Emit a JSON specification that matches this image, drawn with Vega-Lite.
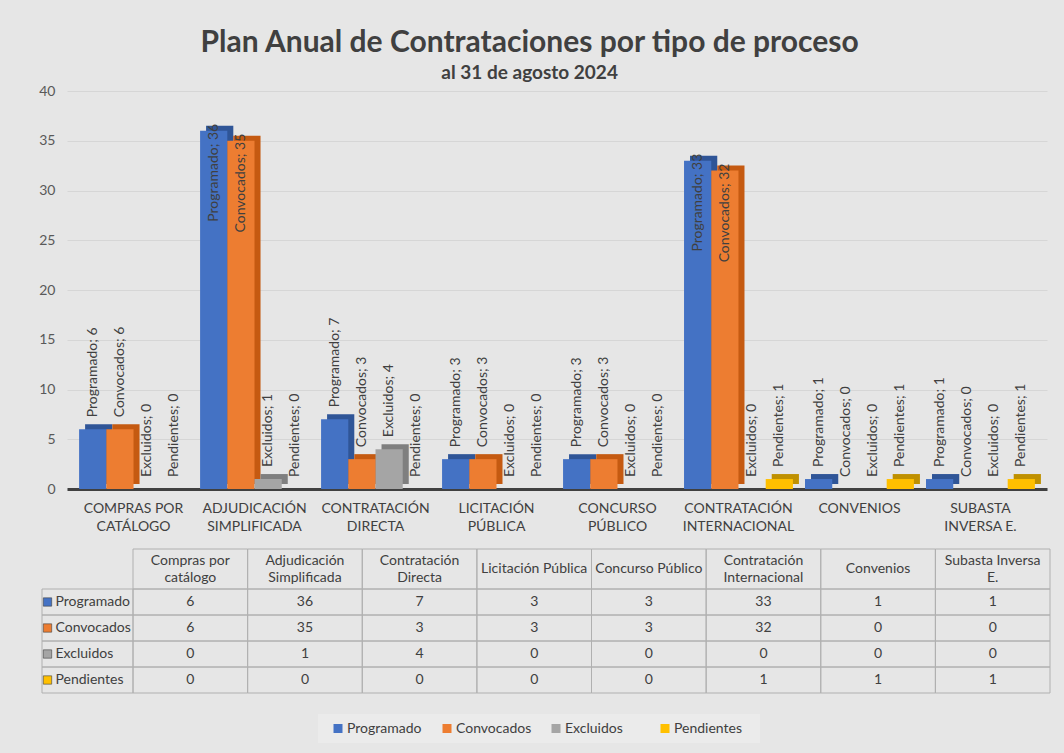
{
  "$schema": "https://vega.github.io/schema/vega-lite/v6.json",
  "background": "#e6e6e6",
  "padding": {"left": 38, "top": 28, "right": 16, "bottom": 11},
  "config": {"font": "Lato", "view": {"stroke": null}},
  "title": {
    "text": "Plan Anual de Contrataciones por tipo de proceso",
    "subtitle": "al 31 de agosto 2024",
    "fontSize": 30, "fontWeight": "bold", "color": "#404040",
    "subtitleFontSize": 19, "subtitleFontWeight": "bold", "subtitleColor": "#404040",
    "anchor": "middle", "offset": 1, "subtitlePadding": 6, "dx": -15
  },
  "datasets": {
    "vals": [
      {"cat": "Compras por catálogo", "series": "Programado", "value": 6},
      {"cat": "Compras por catálogo", "series": "Convocados", "value": 6},
      {"cat": "Compras por catálogo", "series": "Excluidos", "value": 0},
      {"cat": "Compras por catálogo", "series": "Pendientes", "value": 0},
      {"cat": "Adjudicación Simplificada", "series": "Programado", "value": 36},
      {"cat": "Adjudicación Simplificada", "series": "Convocados", "value": 35},
      {"cat": "Adjudicación Simplificada", "series": "Excluidos", "value": 1},
      {"cat": "Adjudicación Simplificada", "series": "Pendientes", "value": 0},
      {"cat": "Contratación Directa", "series": "Programado", "value": 7},
      {"cat": "Contratación Directa", "series": "Convocados", "value": 3},
      {"cat": "Contratación Directa", "series": "Excluidos", "value": 4},
      {"cat": "Contratación Directa", "series": "Pendientes", "value": 0},
      {"cat": "Licitación Pública", "series": "Programado", "value": 3},
      {"cat": "Licitación Pública", "series": "Convocados", "value": 3},
      {"cat": "Licitación Pública", "series": "Excluidos", "value": 0},
      {"cat": "Licitación Pública", "series": "Pendientes", "value": 0},
      {"cat": "Concurso Público", "series": "Programado", "value": 3},
      {"cat": "Concurso Público", "series": "Convocados", "value": 3},
      {"cat": "Concurso Público", "series": "Excluidos", "value": 0},
      {"cat": "Concurso Público", "series": "Pendientes", "value": 0},
      {"cat": "Contratación Internacional", "series": "Programado", "value": 33},
      {"cat": "Contratación Internacional", "series": "Convocados", "value": 32},
      {"cat": "Contratación Internacional", "series": "Excluidos", "value": 0},
      {"cat": "Contratación Internacional", "series": "Pendientes", "value": 1},
      {"cat": "Convenios", "series": "Programado", "value": 1},
      {"cat": "Convenios", "series": "Convocados", "value": 0},
      {"cat": "Convenios", "series": "Excluidos", "value": 0},
      {"cat": "Convenios", "series": "Pendientes", "value": 1},
      {"cat": "Subasta Inversa E.", "series": "Programado", "value": 1},
      {"cat": "Subasta Inversa E.", "series": "Convocados", "value": 0},
      {"cat": "Subasta Inversa E.", "series": "Excluidos", "value": 0},
      {"cat": "Subasta Inversa E.", "series": "Pendientes", "value": 1}
    ],
    "cats": [
      {"cat": "Compras por catálogo", "axis": "COMPRAS POR|CATÁLOGO", "hdr": "Compras por|catálogo"},
      {"cat": "Adjudicación Simplificada", "axis": "ADJUDICACIÓN|SIMPLIFICADA", "hdr": "Adjudicación|Simplificada"},
      {"cat": "Contratación Directa", "axis": "CONTRATACIÓN|DIRECTA", "hdr": "Contratación|Directa"},
      {"cat": "Licitación Pública", "axis": "LICITACIÓN|PÚBLICA", "hdr": "Licitación Pública"},
      {"cat": "Concurso Público", "axis": "CONCURSO|PÚBLICO", "hdr": "Concurso Público"},
      {"cat": "Contratación Internacional", "axis": "CONTRATACIÓN|INTERNACIONAL", "hdr": "Contratación|Internacional"},
      {"cat": "Convenios", "axis": "CONVENIOS", "hdr": "Convenios"},
      {"cat": "Subasta Inversa E.", "axis": "SUBASTA|INVERSA E.", "hdr": "Subasta Inversa|E."}
    ]
  },
  "bounds": "flush",
  "spacing": 60,
  "vconcat": [
    {
      "width": 980,
      "height": 398,
      "data": {"name": "vals"},
      "transform": [
        {"lookup": "cat", "from": {"data": {"name": "cats"}, "key": "cat", "fields": ["axis"]}},
        {"calculate": "datum.series + '; ' + datum.value", "as": "lbl"}
      ],
      "encoding": {
        "x": {
          "field": "axis", "type": "nominal", "sort": null, "title": null,
          "scale": {"paddingInner": 0.1, "paddingOuter": 0.1},
          "axis": {"labelExpr": "split(datum.label, '|')", "labelAngle": 0, "labelFontSize": 14, "labelColor": "#404040", "labelLineHeight": 18, "labelPadding": 12, "ticks": false, "domainColor": "#404040", "domainWidth": 3}
        },
        "y": {
          "field": "value", "type": "quantitative", "title": null,
          "scale": {"domain": [0, 40], "nice": false},
          "axis": {"values": [0, 5, 10, 15, 20, 25, 30, 35, 40], "labelFontSize": 14, "labelColor": "#595959", "labelPadding": 12, "domain": false, "ticks": false, "gridColor": "#d6d6d6"}
        }
      },
      "layer": [
        {
          "mark": {"type": "bar", "yOffset": -5},
          "encoding": {
            "xOffset": {"field": "series", "type": "nominal", "scale": {"type": "band", "domain": ["Programado", "Convocados", "Excluidos", "Pendientes"], "range": [6, 114.9], "paddingInner": 0, "paddingOuter": 0}},
            "fill": {"field": "series", "type": "nominal", "scale": {"domain": ["Programado", "Convocados", "Excluidos", "Pendientes"], "range": ["#2F5597", "#C55A11", "#7F7F7F", "#BF9000"]}, "legend": null}
          }
        },
        {
          "mark": {"type": "bar"},
          "encoding": {
            "xOffset": {"field": "series", "type": "nominal", "scale": {"type": "band", "domain": ["Programado", "Convocados", "Excluidos", "Pendientes"], "paddingInner": 0, "paddingOuter": 0}},
            "color": {
              "field": "series", "type": "nominal",
              "scale": {"domain": ["Programado", "Convocados", "Excluidos", "Pendientes"], "range": ["#4472C4", "#ED7D31", "#A5A5A5", "#FFC000"]},
              "legend": null
            }
          }
        },
        {
          "transform": [{"filter": "datum.value < 30"}],
          "mark": {"type": "text", "angle": -90, "align": "left", "baseline": "middle", "dx": 12, "fontSize": 14, "color": "#404040"},
          "encoding": {
            "xOffset": {"field": "series", "type": "nominal", "scale": {"type": "band", "domain": ["Programado", "Convocados", "Excluidos", "Pendientes"], "paddingInner": 0, "paddingOuter": 0}},
            "text": {"field": "lbl"}
          }
        },
        {
          "transform": [{"filter": "datum.value >= 30"}],
          "mark": {"type": "text", "angle": -90, "align": "right", "baseline": "middle", "dx": 7, "fontSize": 14, "color": "#404040"},
          "encoding": {
            "xOffset": {"field": "series", "type": "nominal", "scale": {"type": "band", "domain": ["Programado", "Convocados", "Excluidos", "Pendientes"], "paddingInner": 0, "paddingOuter": 0}},
            "text": {"field": "lbl"}
          }
        }
      ],
      "resolve": {"scale": {"xOffset": "independent"}}
    },
    {
      "width": 983,
      "height": 144,
      "data": {"name": "vals"},
      "transform": [
        {"lookup": "cat", "from": {"data": {"name": "cats"}, "key": "cat", "fields": ["hdr"]}}
      ],
      "layer": [
        {
          "transform": [{"filter": "datum.series == 'Programado'"}],
          "mark": {"type": "rect", "fill": null, "stroke": "#b0b0b0", "strokeWidth": 1},
          "encoding": {
            "x": {"field": "hdr", "type": "nominal", "sort": null, "axis": null, "scale": {"range": [66, 983], "paddingInner": 0, "paddingOuter": 0}},
            "y": {"datum": "h", "type": "nominal", "axis": null, "scale": {"range": [0, 40], "paddingInner": 0, "paddingOuter": 0}}
          }
        },
        {
          "transform": [{"filter": "datum.series == 'Programado' && indexof(datum.hdr, '|') >= 0"}],
          "mark": {"type": "text", "lineBreak": "|", "lineHeight": 17, "dy": -8.5, "fontSize": 14, "color": "#404040"},
          "encoding": {
            "x": {"field": "hdr", "type": "nominal", "sort": null, "axis": null, "scale": {"domain": ["Compras por|catálogo", "Adjudicación|Simplificada", "Contratación|Directa", "Licitación Pública", "Concurso Público", "Contratación|Internacional", "Convenios", "Subasta Inversa|E."], "range": [66, 983], "paddingInner": 0, "paddingOuter": 0}},
            "y": {"datum": "h", "type": "nominal", "axis": null, "scale": {"range": [0, 40], "paddingInner": 0, "paddingOuter": 0}},
            "text": {"field": "hdr"}
          }
        },
        {
          "transform": [{"filter": "datum.series == 'Programado' && indexof(datum.hdr, '|') < 0"}],
          "mark": {"type": "text", "fontSize": 14, "color": "#404040"},
          "encoding": {
            "x": {"field": "hdr", "type": "nominal", "sort": null, "axis": null, "scale": {"domain": ["Compras por|catálogo", "Adjudicación|Simplificada", "Contratación|Directa", "Licitación Pública", "Concurso Público", "Contratación|Internacional", "Convenios", "Subasta Inversa|E."], "range": [66, 983], "paddingInner": 0, "paddingOuter": 0}},
            "y": {"datum": "h", "type": "nominal", "axis": null, "scale": {"range": [0, 40], "paddingInner": 0, "paddingOuter": 0}},
            "text": {"field": "hdr"}
          }
        },
        {
          "mark": {"type": "rect", "fill": null, "stroke": "#b0b0b0", "strokeWidth": 1},
          "encoding": {
            "x": {"field": "hdr", "type": "nominal", "sort": null, "axis": null, "scale": {"range": [66, 983], "paddingInner": 0, "paddingOuter": 0}},
            "y": {"field": "series", "type": "nominal", "axis": null, "scale": {"domain": ["Programado", "Convocados", "Excluidos", "Pendientes"], "range": [40, 144], "paddingInner": 0, "paddingOuter": 0}}
          }
        },
        {
          "mark": {"type": "text", "fontSize": 14, "color": "#404040"},
          "encoding": {
            "x": {"field": "hdr", "type": "nominal", "sort": null, "axis": null, "scale": {"range": [66, 983], "paddingInner": 0, "paddingOuter": 0}},
            "y": {"field": "series", "type": "nominal", "axis": null, "scale": {"domain": ["Programado", "Convocados", "Excluidos", "Pendientes"], "range": [40, 144], "paddingInner": 0, "paddingOuter": 0}},
            "text": {"field": "value"}
          }
        },
        {
          "transform": [{"filter": "datum.cat == 'Compras por catálogo'"}],
          "mark": {"type": "rect", "fill": null, "stroke": "#b0b0b0", "strokeWidth": 1},
          "encoding": {
            "x": {"datum": "lab", "type": "nominal", "axis": null, "scale": {"range": [-25, 66], "paddingInner": 0, "paddingOuter": 0}},
            "y": {"field": "series", "type": "nominal", "axis": null, "scale": {"domain": ["Programado", "Convocados", "Excluidos", "Pendientes"], "range": [40, 144], "paddingInner": 0, "paddingOuter": 0}}
          }
        },
        {
          "transform": [{"filter": "datum.cat == 'Compras por catálogo'"}],
          "mark": {"type": "point", "shape": "square", "filled": true, "size": 70, "xOffset": -40, "opacity": 1, "stroke": "#404040", "strokeWidth": 0.6},
          "encoding": {
            "x": {"datum": "lab", "type": "nominal", "axis": null, "scale": {"range": [-25, 66], "paddingInner": 0, "paddingOuter": 0}},
            "y": {"field": "series", "type": "nominal", "axis": null, "scale": {"domain": ["Programado", "Convocados", "Excluidos", "Pendientes"], "range": [40, 144], "paddingInner": 0, "paddingOuter": 0}},
            "color": {"field": "series", "type": "nominal", "legend": null}
          }
        },
        {
          "transform": [{"filter": "datum.cat == 'Compras por catálogo'"}],
          "mark": {"type": "text", "align": "left", "dx": -32, "fontSize": 14, "color": "#404040"},
          "encoding": {
            "x": {"datum": "lab", "type": "nominal", "axis": null, "scale": {"range": [-25, 66], "paddingInner": 0, "paddingOuter": 0}},
            "y": {"field": "series", "type": "nominal", "axis": null, "scale": {"domain": ["Programado", "Convocados", "Excluidos", "Pendientes"], "range": [40, 144], "paddingInner": 0, "paddingOuter": 0}},
            "text": {"field": "series"}
          }
        },
        {
          "transform": [{"filter": "datum.cat == 'Compras por catálogo' && datum.series == 'Programado'"}],
          "mark": {"type": "rect", "fill": "#ebebeb", "stroke": null},
          "encoding": {
            "x": {"datum": "leyenda", "type": "nominal", "axis": null, "scale": {"range": [251, 693], "paddingInner": 0, "paddingOuter": 0}},
            "y": {"datum": "leyenda", "type": "nominal", "axis": null, "scale": {"range": [165, 194], "paddingInner": 0, "paddingOuter": 0}}
          }
        },
        {
          "transform": [{"filter": "datum.cat == 'Compras por catálogo'"}],
          "mark": {"type": "point", "shape": "square", "filled": true, "size": 81, "opacity": 1, "strokeWidth": 0},
          "encoding": {
            "x": {"field": "series", "type": "nominal", "axis": null, "scale": {"domain": ["Programado", "Convocados", "Excluidos", "Pendientes"], "range": [216.5, 652.5], "paddingInner": 0, "paddingOuter": 0}},
            "y": {"datum": "leyenda", "type": "nominal", "axis": null, "scale": {"range": [165, 194], "paddingInner": 0, "paddingOuter": 0}},
            "color": {"field": "series", "type": "nominal", "legend": null}
          }
        },
        {
          "transform": [{"filter": "datum.cat == 'Compras por catálogo'"}],
          "mark": {"type": "text", "align": "left", "dx": 9, "fontSize": 14, "color": "#404040"},
          "encoding": {
            "x": {"field": "series", "type": "nominal", "axis": null, "scale": {"domain": ["Programado", "Convocados", "Excluidos", "Pendientes"], "range": [216.5, 652.5], "paddingInner": 0, "paddingOuter": 0}},
            "y": {"datum": "leyenda", "type": "nominal", "axis": null, "scale": {"range": [165, 194], "paddingInner": 0, "paddingOuter": 0}},
            "text": {"field": "series"}
          }
        }
      ],
      "resolve": {"scale": {"x": "independent", "y": "independent"}}
    }
  ]
}
